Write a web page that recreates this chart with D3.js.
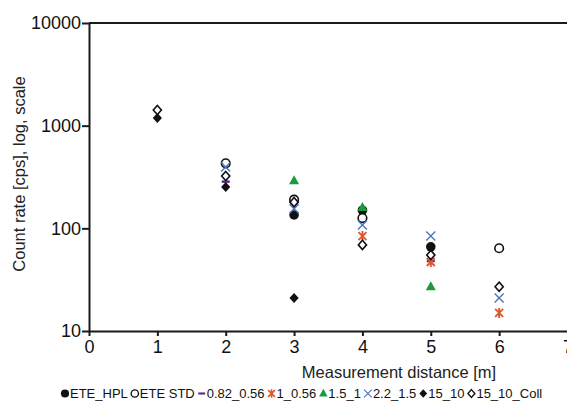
<!DOCTYPE html>
<html>
<head>
<meta charset="utf-8">
<script src="https://cdn.jsdelivr.net/npm/d3@7"></script>
<style>
  body { margin: 0; background: #fff; }
  svg { font-family: "Liberation Sans", Arial, Helvetica, sans-serif; display: block; }
  .axis path, .axis line { stroke: #1a1a1a; stroke-width: 2; }
  .axis text { font-size: 18px; fill: #111; }
</style>
</head>
<body>
<div id="wrapper"></div>
<script>
// 1. Data
const distances = [1, 2, 3, 4, 5, 6]
const xTicks = [0, 1, 2, 3, 4, 5, 6, 7]
const yTicks = [10, 100, 1000, 10000]

// each series: values at distances, null = no point
const eteHpl   = [null, null, 135, 150, 66, null]
const eteStd   = [null, 430, 190, 126, null, 64]
const s082_056 = [null, 285, null, null, 48, null]
const s1_056   = [null, null, null, 84, 47, 15]
const s15_1    = [null, null, 290, 160, 27, null]
const s22_15   = [null, 395, 155, 108, 84, 21]
const s15_10   = [1186, 252, 21, null, null, null]
const s15_10O  = [1420, 323, 180, 69, 55, 27]

const seriesNames = ["ETE_HPL", "ETE STD", "0.82_0.56", "1_0.56", "1.5_1", "2.2_1.5", "15_10", "15_10_Coll"]
const seriesValues = [eteHpl, eteStd, s082_056, s1_056, s15_1, s22_15, s15_10, s15_10O]
const seriesMarkers = ["dot", "circle", "dash", "star", "triangle", "cross", "diamond", "odiamond"]
const seriesColors = ["#111", "#111", "#5b2a86", "#e2562b", "#1b9a3e", "#4a76bf", "#111", "#111"]

// 2. Dimensions
const width = 567, height = 412
const plot = { left: 89, right: 567.5, top: 23, bottom: 331 }

// 3. Canvas
const svg = d3.select("#wrapper").append("svg")
  .attr("width", width)
  .attr("height", height)

// 4. Scales
const xScale = d3.scaleLinear().domain([0, 7]).range([plot.left, plot.right])
const yScale = d3.scaleLog().domain([10, 10000]).range([plot.bottom, plot.top])

// marker drawing
function drawMarker(g, type, color) {
  if (type == "dot") {
    g.append("circle").attr("r", 4.8).attr("fill", color)
  } else if (type == "circle") {
    g.append("circle").attr("r", 4.3).attr("fill", "#fff").attr("stroke", color).attr("stroke-width", 1.6)
  } else if (type == "dash") {
    g.append("line").attr("x1", -4).attr("x2", 4).attr("stroke", color).attr("stroke-width", 2.5)
  } else if (type == "star") {
    g.append("path").attr("d", "M-4,-4L4,4M-4,4L4,-4M0,-5V5")
      .attr("stroke", color).attr("stroke-width", 1.9).attr("fill", "none")
  } else if (type == "triangle") {
    g.append("path").attr("d", "M0,-5.5L5,3.5L-5,3.5Z").attr("fill", color)
  } else if (type == "cross") {
    g.append("path").attr("d", "M-4.5,-4.5L4.5,4.5M-4.5,4.5L4.5,-4.5")
      .attr("stroke", color).attr("stroke-width", 1.4).attr("fill", "none")
  } else if (type == "diamond") {
    g.append("path").attr("d", "M0,-5L4.6,0L0,5L-4.6,0Z").attr("fill", color)
  } else if (type == "odiamond") {
    g.append("path").attr("d", "M0,-4.6L4.1,0L0,4.6L-4.1,0Z")
      .attr("fill", "#fff").attr("stroke", color).attr("stroke-width", 1.6)
  }
}

// 5. Draw data
seriesValues.forEach((vals, i) => {
  const pts = distances.map((d, j) => ({ x: d, y: vals[j] })).filter(d => d.y != null)
  pts.forEach(p => {
    const g = svg.append("g")
      .attr("transform", `translate(${xScale(p.x)},${yScale(p.y)})`)
    drawMarker(g, seriesMarkers[i], seriesColors[i])
  })
})

// 6. Peripherals
const yAxis = svg.append("g")
  .attr("class", "axis")
  .attr("transform", `translate(${plot.left},0)`)
  .call(d3.axisLeft(yScale).tickValues(yTicks).tickFormat(d3.format("d")).tickSizeInner(7).tickSizeOuter(0).tickPadding(1))

const xAxis = svg.append("g")
  .attr("class", "axis")
  .attr("transform", `translate(0,${plot.bottom})`)
  .call(d3.axisBottom(xScale).tickValues(xTicks).tickFormat(d3.format("d")).tickSizeInner(5).tickSizeOuter(0).tickPadding(4))

// top frame line
svg.append("line")
  .attr("x1", plot.left).attr("x2", width)
  .attr("y1", plot.top).attr("y2", plot.top)
  .attr("stroke", "#1a1a1a").attr("stroke-width", 2)

svg.append("text")
  .attr("transform", `translate(25,174) rotate(-90)`)
  .attr("text-anchor", "middle")
  .style("font-size", "16.5px")
  .attr("fill", "#222")
  .text("Count rate [cps], log, scale")

svg.append("text")
  .attr("x", 399)
  .attr("y", 378)
  .attr("text-anchor", "middle")
  .style("font-size", "16.5px")
  .attr("fill", "#222")
  .text("Measurement distance [m]")

// legend
const legend = svg.append("g").attr("transform", "translate(61,398)")
let lx = 0
seriesNames.forEach((name, i) => {
  const m = legend.append("g").attr("transform", `translate(${lx + 4},-4.5) scale(0.85)`)
  drawMarker(m, seriesMarkers[i], seriesColors[i])
  const t = legend.append("text")
    .attr("x", lx + 9)
    .attr("y", 0)
    .style("font-size", "13px")
    .attr("fill", "#111")
    .text(name)
  lx += 9 + t.node().getComputedTextLength() + 3
})
</script>
</body>
</html>
